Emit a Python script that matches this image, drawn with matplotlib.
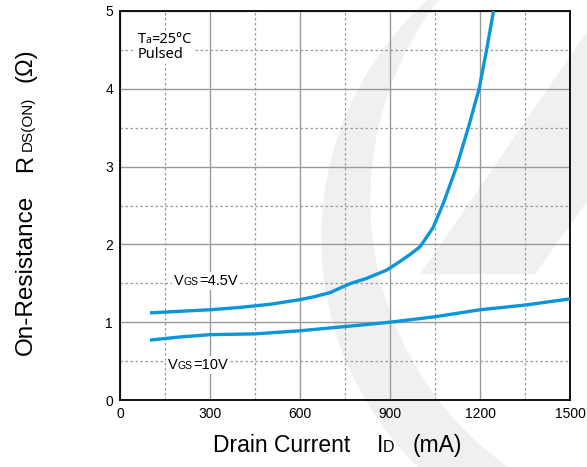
import matplotlib
matplotlib.use('Agg')
import matplotlib.pyplot as plt
from matplotlib.transforms import Affine2D
from matplotlib.patches import Circle, Polygon
from matplotlib.offsetbox import TextArea, HPacker, VPacker, AnnotationBbox

# Drain current (mA) vs on-resistance (ohm)
id_45v = [100, 200, 300, 400, 500, 600, 650, 700, 740, 770, 820, 889, 933, 970, 1000,
          1020, 1044, 1078, 1122, 1161, 1197, 1222, 1245]
rds_45v = [1.12, 1.14, 1.16, 1.19, 1.23, 1.29, 1.33, 1.38, 1.45, 1.50, 1.56, 1.67, 1.78, 1.88, 1.97,
           2.08, 2.22, 2.53, 3.00, 3.50, 4.00, 4.50, 5.00]

id_10v = [100, 200, 300, 450, 600, 767, 900, 1050, 1200, 1350, 1500]
rds_10v = [0.77, 0.81, 0.84, 0.85, 0.89, 0.95, 1.00, 1.07, 1.16, 1.22, 1.30]

x_ticks = [0, 300, 600, 900, 1200, 1500]
y_ticks = [0, 1, 2, 3, 4, 5]

W, H = 587, 467
LINE = '#0a96d8'
GRID = '#9a9a9a'
WM = '#f0f0f0'

plt.rcParams['font.family'] = ['Liberation Sans', 'DejaVu Sans']

fig = plt.figure(figsize=(W / 100, H / 100), dpi=100)
# pixel coordinates, origin top-left
px = Affine2D().scale(1 / 100, -1 / 100).translate(0, H / 100) + fig.dpi_scale_trans

# background watermark (crescent + slash)
fig.patches.append(Circle((641, 238), 319, transform=px, color=WM, zorder=-3))
fig.patches.append(Circle((698, 200), 327, transform=px, color='white', zorder=-2))
fig.patches.append(Polygon([(600, 14), (720, 14), (535, 273), (422, 273)], closed=True,
                           transform=px, color=WM, zorder=-1))

ax = fig.add_axes([120 / W, 1 - 400 / H, 450 / W, 389 / H])
ax.set_zorder(1)
ax.set_facecolor('none')

ax.plot(id_45v, rds_45v, color=LINE, lw=2.4, solid_capstyle='butt', solid_joinstyle='round', zorder=3)
ax.plot(id_10v, rds_10v, color=LINE, lw=2.4, solid_capstyle='butt', solid_joinstyle='round', zorder=3)

ax.set_xlim(0, 1500)
ax.set_ylim(0, 5)
ax.set_xticks(x_ticks)
ax.set_yticks(y_ticks)
ax.set_xticks([150 + 300 * i for i in range(5)], minor=True)
ax.set_yticks([0.5 + i for i in range(5)], minor=True)
ax.grid(which='major', color=GRID, lw=1.0, ls='-')
ax.grid(which='minor', color=GRID, lw=0.9, ls=(0, (2, 2)))
ax.set_axisbelow(True)
ax.tick_params(which='both', length=0, labelsize=10, colors='black', pad=5)
for s in ax.spines.values():
    s.set_linewidth(1.3)
    s.set_color('black')


def label(parts, family='Liberation Sans'):
    boxes = [TextArea(t, textprops=dict(size=sz, family=family)) for t, sz in parts]
    return HPacker(children=boxes, align='baseline', pad=0, sep=0)


def place(box, xy, align=(0, 0.5)):
    ab = AnnotationBbox(box, xy, xycoords='data', box_alignment=align, frameon=True,
                        pad=0.15, bboxprops=dict(fc='white', ec='none'), zorder=2)
    ax.add_artist(ab)


place(label([('V', 10.5), ('GS', 7.5), ('=4.5V', 10.5)]), (180, 1.53))
place(label([('V', 10.5), ('GS', 7.5), ('=10V', 10.5)]), (160, 0.45))

ta = VPacker(children=[label([('T', 10.5), ('a', 7.5), ('=25°C', 10.5)], family='Noto Sans'),
                       label([('Pulsed', 10.5)], family='Noto Sans')],
             align='left', pad=0, sep=0)
place(ta, (58, 4.54))

# axis titles built from pieces so the subscripts sit on the baseline
for txt, y0, sz in [('On-Resistance', 355, 17.5), ('R', 172, 17), ('DS(ON)', 151, 11), ('(Ω)', 82, 17)]:
    fig.text(32, y0, txt, transform=px, rotation=90, rotation_mode='anchor',
             ha='left', va='baseline', size=sz)
for txt, x0, sz in [('Drain Current', 213, 16.5), ('I', 377, 16.5), ('D', 383, 11.5), ('(mA)', 413, 16.5)]:
    fig.text(x0, 452, txt, transform=px, ha='left', va='baseline', size=sz)

fig.savefig('out.png', dpi=100)
